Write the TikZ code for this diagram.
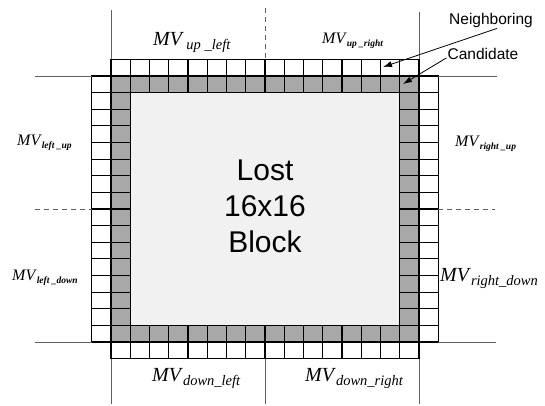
\documentclass[tikz,border=0pt]{standalone}
\usepackage{fontspec}
\setmainfont{Liberation Serif}
\newfontfamily\arialfont{Liberation Sans}
\usetikzlibrary{arrows.meta, positioning}

% cell size of the border rings
\def\cw{19.25}
\def\ch{16.625}
\newcommand{\mvbig}[1]{\fontsize{20}{22}\selectfont\textit{MV}{\fontsize{14.5}{16}\selectfont\raisebox{-4pt}{\textit{#1}}}}
\newcommand{\mvsmall}[1]{\fontsize{16}{18}\selectfont\textit{MV}{\fontsize{9.5}{11}\selectfont\raisebox{-3pt}{\textbf{\textit{#1}}}}}

\begin{document}
\begin{tikzpicture}[x=1pt, y=-1pt,
            candcell/.style={draw=black, fill=gray!68, line width=1.1pt},
            nbcell/.style={draw=black, fill=white, line width=1.1pt},
            lostblock/.style={fill=gray!11, draw=none},
            guideline/.style={draw=gray!75!black, line width=0.8pt},
            guidedash/.style={guideline, dash pattern=on 5pt off 4pt},
            mvlabel/.style={anchor=base west, inner sep=0pt},
            sidelabel/.style={font=\arialfont\fontsize{15.5}{18}\selectfont, inner sep=1pt},
            pointer/.style={-{Latex[length=9pt, width=6pt]}, line width=0.8pt},
            ]
            \useasboundingbox (0,0) rectangle (545,405);

            % lost block
            \fill[lostblock] (130.25,92.6) rectangle (399.75,325.4);

            % rings of candidate and neighbouring cells
            \foreach \i in {0,...,15} {
                \draw[nbcell]   ({111+\i*\cw},59.4)  rectangle ++(\cw,\ch);
                \draw[candcell] ({111+\i*\cw},76)    rectangle ++(\cw,\ch);
                \draw[candcell] ({111+\i*\cw},325.4) rectangle ++(\cw,\ch);
                \draw[nbcell]   ({111+\i*\cw},342)   rectangle ++(\cw,\ch);
                \draw[nbcell]   (91.75,{76+\i*\ch})  rectangle ++(\cw,\ch);
                \draw[candcell] (111,{76+\i*\ch})    rectangle ++(\cw,\ch);
                \draw[candcell] (399.75,{76+\i*\ch}) rectangle ++(\cw,\ch);
                \draw[nbcell]   (419,{76+\i*\ch})    rectangle ++(\cw,\ch);
            }

            % dividing lines
            \draw[guideline] (111,10) -- (111,59.4);
            \draw[guidedash] (265,8) -- (265,59.4);
            \draw[guideline] (419,12) -- (419,59.4);
            \draw[guideline] (35,76) -- (91.75,76);
            \draw[guideline] (438.25,76) -- (497,76);
            \draw[guidedash] (35,209) -- (91.75,209);
            \draw[guidedash] (438.25,209) -- (495,209);
            \draw[guideline] (35,342) -- (91.75,342);
            \draw[guideline] (438.25,342) -- (496,342);
            \draw[guideline] (111,358.6) -- (111,404);
            \draw[guideline] (265,358.6) -- (265,404);
            \draw[guideline] (419,358.6) -- (419,404);

            % block text
            \node[align=center, font=\arialfont\fontsize{30}{36}\selectfont] (lost) at (265,206) {Lost\\16x16\\Block};

            % motion vector labels
            \node[mvlabel] (mvul) at (153,45)  {\mvbig{\,up \_left}};
            \node[mvlabel] (mvur) at (322,43)  {\mvsmall{up \_right}};
            \node[mvlabel] (mvlu) at (17,145)  {\mvsmall{left \_up}};
            \node[mvlabel] (mvld) at (12,280)  {\mvsmall{left \_down}};
            \node[mvlabel] (mvru) at (455,146) {\mvsmall{right \_up}};
            \node[mvlabel] (mvrd) at (440,281) {\mvbig{right\_down}};
            \node[mvlabel] (mvdl) at (152,381) {\mvbig{down\_left}};
            \node[mvlabel] (mvdr) at (305,381) {\mvbig{down\_right}};

            % legend
            \node[sidelabel] (nbtxt) at (491,20) {Neighboring};
            \node[sidelabel] (cdtxt) at (483,54) {Candidate};
            \coordinate (nbtip) at (383,67);
            \coordinate (cdtip) at (403,84);
            \draw[pointer] ([xshift=6pt]nbtxt.south) -- (nbtip);
            \draw[pointer] ([yshift=3pt]cdtxt.south west) -- (cdtip);
        \end{tikzpicture}
\end{document}
